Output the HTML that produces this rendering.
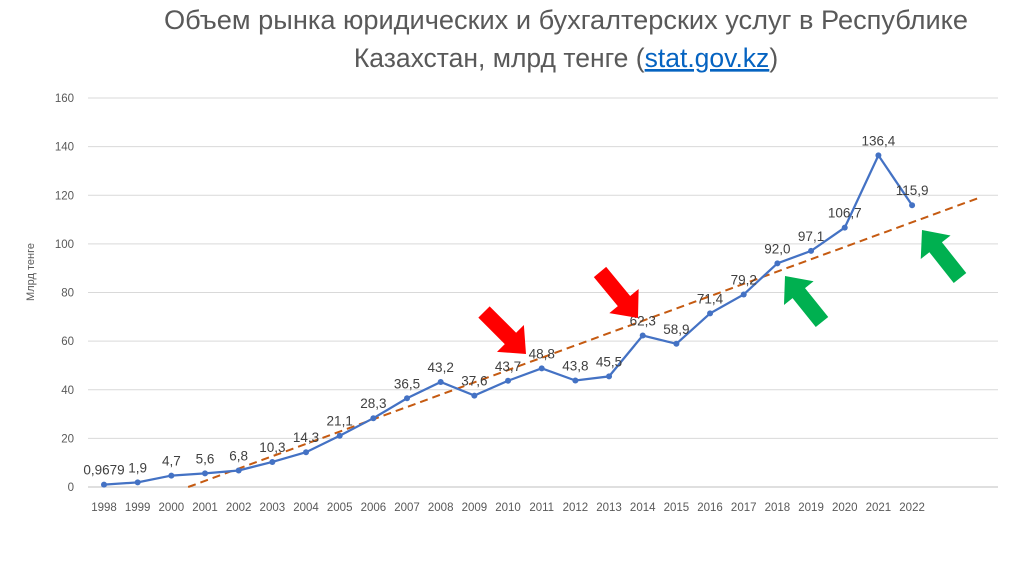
<!DOCTYPE html>
<html><head><meta charset="utf-8"><style>
body{margin:0;background:#fff;}
svg{display:block;font-family:"Liberation Sans",sans-serif;}
</style></head><body>
<svg width="1024" height="574">
<text x="566" y="29" text-anchor="middle" font-size="26.5" fill="#595959" textLength="804" lengthAdjust="spacingAndGlyphs">Объем рынка юридических и бухгалтерских услуг в Республике</text>
<text x="566" y="67" text-anchor="middle" font-size="26.5" fill="#595959">Казахстан, млрд тенге (<tspan fill="#0563c1" text-decoration="underline">stat.gov.kz</tspan>)</text>
<g id="grid"></g>
<text transform="translate(34,272) rotate(-90)" text-anchor="middle" font-size="11" fill="#595959">Млрд тенге</text>
<g id="trend"></g>
<g id="series"></g>
<g id="labels"></g>
<g id="arrows"></g>
</svg>
<script>
const years=["1998","1999","2000","2001","2002","2003","2004","2005","2006","2007","2008","2009","2010","2011","2012","2013","2014","2015","2016","2017","2018","2019","2020","2021","2022"];
const values=[0.9679,1.9,4.7,5.6,6.8,10.3,14.3,21.1,28.3,36.5,43.2,37.6,43.7,48.8,43.8,45.5,62.3,58.9,71.4,79.2,92.0,97.1,106.7,136.4,115.9];
const valueLabels=["0,9679","1,9","4,7","5,6","6,8","10,3","14,3","21,1","28,3","36,5","43,2","37,6","43,7","48,8","43,8","45,5","62,3","58,9","71,4","79,2","92,0","97,1","106,7","136,4","115,9"];
const yTicks=[0,20,40,60,80,100,120,140,160];
const trendStart=[2000.5,0];
const trendEnd=[2024,119];
const NS="http://www.w3.org/2000/svg";
const X=y=>104+(y-1998)*33.67;
const xi=i=>X(1998+i);
const Y=v=>487-v*(389/160);
function mk(t,a,p){const e=document.createElementNS(NS,t);for(const k in a)e.setAttribute(k,a[k]);(p||document.querySelector('svg')).appendChild(e);return e;}
const grid=document.getElementById('grid');
yTicks.forEach(v=>{
 const l=mk('line',{x1:88,x2:998,y1:Y(v),y2:Y(v),stroke:v===0?'#bfbfbf':'#d9d9d9','stroke-width':1},grid);
 
 
 const t=mk('text',{x:74,y:Y(v)+4,'text-anchor':'end','font-size':11.5,fill:'#595959'},grid);t.textContent=v;
 
 
});
years.forEach((yr,i)=>{
 const t=mk('text',{x:xi(i),y:511,'text-anchor':'middle','font-size':11.5,fill:'#595959'},grid);t.textContent=yr;
 
 
});
const tr=mk('line',{x1:X(trendStart[0]),y1:Y(trendStart[1]),x2:X(trendEnd[0]),y2:Y(trendEnd[1]),stroke:'#c55a11','stroke-width':2,'stroke-dasharray':'8,5'},document.getElementById('trend'));


const sg=document.getElementById('series');
const pl=mk('polyline',{points:values.map((v,i)=>xi(i)+','+Y(v)).join(' '),fill:'none',stroke:'#4472c4','stroke-width':2.25},sg);


const lg=document.getElementById('labels');
values.forEach((v,i)=>{
 const c=mk('circle',{cx:xi(i),cy:Y(v),r:3,fill:'#4472c4'},sg);
 
 
 const t=mk('text',{x:xi(i),y:Y(v)-10,'text-anchor':'middle','font-size':13.5,fill:'#404040'},lg);t.textContent=valueLabels[i];
 
 
});
const ag=document.getElementById('arrows');
function arrow(tx,ty,hx,hy,col,name){
 const dx=hx-tx,dy=hy-ty,L=Math.hypot(dx,dy),ang=Math.atan2(dy,dx)*180/Math.PI;
 const s=8,h=19,hl=22;
 const p=`0,${-s} ${L-hl},${-s} ${L-hl},${-h} ${L},0 ${L-hl},${h} ${L-hl},${s} 0,${s}`;
 const e=mk('polygon',{points:p,fill:col,transform:`translate(${tx},${ty}) rotate(${ang})`},ag);
 
 
}
arrow(484,312,526,354,'#ff0000','red-arrow-1');
arrow(600,272,638,318,'#ff0000','red-arrow-2');
arrow(822,322,785,276,'#00b050','green-arrow-1');
arrow(960,278,922,230,'#00b050','green-arrow-2');
</script>
</body></html>
